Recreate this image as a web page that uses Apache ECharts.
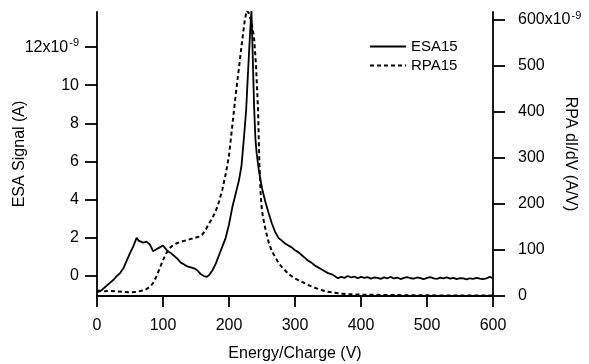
<!DOCTYPE html>
<html>
<head>
<meta charset="utf-8">
<script src="https://cdn.jsdelivr.net/npm/echarts@6/dist/echarts.min.js"></script>
<style>
html,body{margin:0;padding:0;background:#fff;}
#chart{width:589px;height:364px;}
</style>
</head>
<body>
<div id="chart"></div>
<script>
// ESA15 (solid, left axis, units of 1e-9 A)
var esaEnergy = [0,5,10,15,20,25,30,35,40,45,50,55,60,63,66,70,75,80,85,90,95,100,103,107,112,117,122,127,132,137,142,147,152,157,162,166,170,175,180,185,190,195,200,205,210,215,219,223,226,229,232,234,236,238,240,242,245,250,255,260,265,270,275,280,285,290,295,300,305,310,315,320,325,330,335,340,345,350,355,360,365,370,375,380,385,390,395,400,405,410,415,420,425,430,435,440,445,450,455,460,465,470,475,480,485,490,495,500,505,510,515,520,525,530,535,540,545,550,555,560,565,570,575,580,585,590,595,600];
var esaSignal = [-0.85,-0.8,-0.65,-0.5,-0.35,-0.2,0.0,0.15,0.4,0.8,1.2,1.55,2.0,1.85,1.9,1.75,1.8,1.65,1.3,1.4,1.5,1.6,1.5,1.3,1.2,1.05,0.9,0.7,0.6,0.5,0.45,0.4,0.3,0.1,0.0,-0.05,0.05,0.3,0.65,1.1,1.55,2.0,2.7,3.6,4.3,5.0,5.8,7.4,8.7,10.8,12.8,13.9,11.5,8.9,7.2,6.4,5.6,4.6,3.9,3.3,2.75,2.3,2.0,1.85,1.7,1.6,1.5,1.35,1.25,1.1,0.95,0.8,0.7,0.55,0.45,0.35,0.25,0.15,0.1,0.0,-0.12,-0.05,-0.1,0.0,-0.08,-0.03,-0.12,-0.05,-0.1,-0.06,-0.14,-0.08,-0.1,-0.15,-0.07,-0.12,-0.05,-0.13,-0.09,-0.16,-0.1,-0.06,-0.12,-0.14,-0.08,-0.11,-0.17,-0.1,-0.06,-0.13,-0.15,-0.09,-0.12,-0.07,-0.14,-0.1,-0.16,-0.11,-0.13,-0.18,-0.12,-0.15,-0.1,-0.14,-0.16,-0.13,-0.05,-0.12];

// RPA15 (dashed, right axis, units of 1e-9 A/V)
var rpaEnergy = [0,10,20,30,40,50,60,70,75,80,85,90,95,100,105,110,115,120,125,130,135,140,145,150,155,160,165,170,175,180,185,190,195,200,205,210,215,220,224,227,230,233,236,238,241,244,246,248,250,253,256,260,265,270,275,280,290,300,310,320,330,340,350,360,370,380,400,450,500,550,600];
var rpaSignal = [12,10,11,10,9,8,9,12,15,20,28,42,60,78,93,104,110,114,117,119,121,123,125,127,129,134,145,158,170,185,205,232,265,305,370,435,495,555,600,620,615,600,580,560,500,405,290,220,185,160,140,117,97,85,72,63,48,38,31,24,18,13,9,7,5,4,3,2,1.5,1,1];

var leftTicks = [0,2,4,6,8,10,12];
var rightTicks = [0,100,200,300,400,500,600];
var xTicks = [0,100,200,300,400,500,600];

function pairs(xs, ys){ return xs.map(function(x,i){ return [x, ys[i]]; }); }

var font = 'Liberation Sans, Arial, sans-serif';
var chart = echarts.init(document.getElementById('chart'), null, {renderer:'canvas'});
chart.setOption({
  backgroundColor: '#fff',
  animation: false,
  textStyle: {fontFamily: font, color: '#000'},
  grid: {left: 97, right: 96, top: 12, bottom: 68, containLabel: false, outerBoundsMode: 'none'},
  legend: {
    orient: 'vertical', left: 364, top: 34, itemWidth: 36, itemHeight: 12, itemGap: 4,
    textStyle: {fontFamily: font, fontSize: 15, color: '#000'},
    itemStyle: {opacity: 0},
    data: ['ESA15', 'RPA15']
  },
  xAxis: {
    type: 'value', min: 0, max: 600, interval: 100,
    name: 'Energy/Charge (V)', nameLocation: 'middle', nameGap: 50, nameMoveOverlap: false,
    nameTextStyle: {fontFamily: font, fontSize: 16, color: '#000'},
    axisLine: {onZero: false, lineStyle: {color: '#000', width: 1.8}},
    axisTick: {length: 11, lineStyle: {color: '#000', width: 1.8}, customValues: xTicks},
    axisLabel: {margin: 22, fontSize: 16, color: '#000', fontFamily: font, customValues: xTicks},
    splitLine: {show: false}
  },
  yAxis: [{
    type: 'value', position: 'left', min: -1.05, max: 13.84,
    name: 'ESA Signal (A)', nameLocation: 'middle', nameGap: 69, nameMoveOverlap: false,
    nameTextStyle: {fontFamily: font, fontSize: 16, color: '#000'},
    axisLine: {show: true, onZero: false, lineStyle: {color: '#000', width: 1.8}},
    axisTick: {show: true, length: 12, lineStyle: {color: '#000', width: 1.8}, customValues: leftTicks},
    axisLabel: {
      margin: 18, fontSize: 16, color: '#000', fontFamily: font, customValues: leftTicks,
      formatter: function(v){ return v === 12 ? '12x10{sup|-9}' : String(v); },
      rich: {sup: {fontSize: 11, verticalAlign: 'top', padding: [0,0,8,1], fontFamily: font, color: '#000'}}
    },
    splitLine: {show: false}
  }, {
    type: 'value', position: 'right', min: 0, max: 617,
    name: 'RPA dI/dV (A/V)', nameLocation: 'middle', nameGap: 69, nameRotate: -90, nameMoveOverlap: false,
    nameTextStyle: {fontFamily: font, fontSize: 16, color: '#000'},
    axisLine: {show: true, onZero: false, lineStyle: {color: '#000', width: 1.8}},
    axisTick: {show: true, length: 12, lineStyle: {color: '#000', width: 1.8}, customValues: rightTicks},
    axisLabel: {
      margin: 25, fontSize: 16, color: '#000', fontFamily: font, customValues: rightTicks,
      formatter: function(v){ return v === 600 ? '600x10{sup|-9}' : String(v); },
      rich: {sup: {fontSize: 11, verticalAlign: 'top', padding: [0,0,8,1], fontFamily: font, color: '#000'}}
    },
    splitLine: {show: false}
  }],
  series: [{
    name: 'ESA15', type: 'line', yAxisIndex: 0, symbol: 'none', clip: true,
    data: pairs(esaEnergy, esaSignal),
    lineStyle: {color: '#000', width: 1.8, type: 'solid'},
    itemStyle: {color: '#000'}
  }, {
    name: 'RPA15', type: 'line', yAxisIndex: 1, symbol: 'none', clip: true,
    data: pairs(rpaEnergy, rpaSignal),
    lineStyle: {color: '#000', width: 2, type: [4, 3]},
    itemStyle: {color: '#000'}
  }]
});
</script>
</body>
</html>
